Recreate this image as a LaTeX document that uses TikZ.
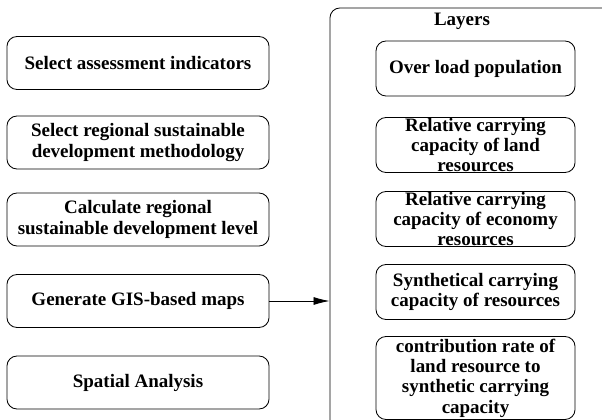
\documentclass[tikz,border=0pt]{standalone}
\usepackage{fontspec}
\setmainfont{Liberation Serif}
\usetikzlibrary{positioning,arrows.meta}

\begin{document}
\begin{tikzpicture}[x=0.025cm,y=-0.025cm,
    stepbox/.style={draw,rounded corners=0.25cm,line width=0.6pt,minimum width=6.55cm,minimum height=1.325cm,inner ysep=-3pt,align=center,font=\fontsize{13.5}{14.5}\selectfont\bfseries},
    layerbox/.style={stepbox,minimum width=4.975cm,minimum height=1.375cm}]
    \useasboundingbox (0,0) rectangle (602,419);
    \clip (0,0) rectangle (602,419);
    % Workflow steps
    \foreach \y/\t [count=\i] in {63/{Select assessment indicators},142.5/{Select regional sustainable\\development methodology},219.5/{Calculate regional\\sustainable development level},301/{Generate GIS-based maps},382.5/{Spatial Analysis}} {
        \node[stepbox] (s\i) at (138,\y) {\t};
    }
    % Layers frame
    \node[draw,rounded corners=0.25cm,line width=0.6pt,minimum width=7.25cm,minimum height=10.8cm] (layers) at (475,224) {};
    \node[font=\fontsize{13.5}{14.5}\selectfont\bfseries] (title) at (462,21) {Layers};
    \foreach \y/\t [count=\i] in {68.5/{Over load population},145/{Relative carrying\\capacity of land\\resources},219/{Relative carrying\\capacity of economy\\resources},292/{Synthetical carrying\\capacity of resources}} {
        \node[layerbox] (l\i) at (475.5,\y) {\t};
    }
    \node[layerbox,minimum height=2.075cm] (l5) at (475.5,378) {contribution rate of\\land resource to\\synthetic carrying\\capacity};
    \draw[-{Latex[length=4mm,width=2mm]},line width=0.6pt] (s4.east) -- (layers.west |- s4.east);
\end{tikzpicture}
\end{document}
